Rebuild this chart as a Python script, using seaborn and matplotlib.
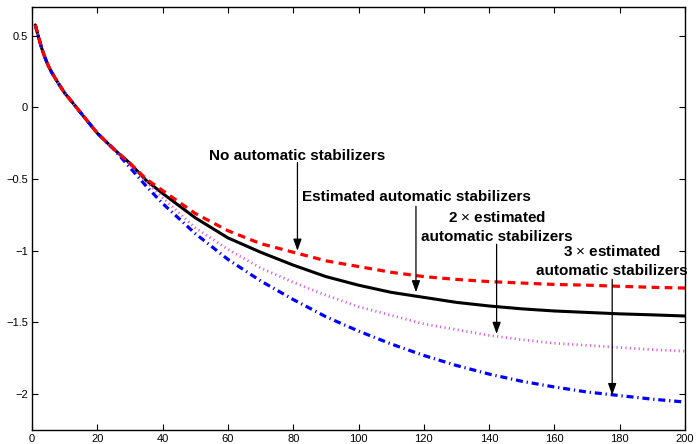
import numpy as np
import pandas as pd
import matplotlib
matplotlib.use("Agg")
import matplotlib.pyplot as plt
import seaborn as sns

# ---- data ----
x = [1, 2, 3, 4, 5, 6, 8, 10, 12, 15, 20, 25, 30, 35, 40, 50, 60, 70, 80, 90,
     100, 110, 120, 130, 140, 150, 160, 170, 180, 190, 200]
common = [0.575, 0.49, 0.41, 0.345, 0.29, 0.245, 0.17, 0.10, 0.045, -0.04,
          -0.18, -0.29]
no_stab = common + [-0.39, -0.50, -0.58, -0.74, -0.86, -0.95, -1.01, -1.07, -1.11,
                    -1.15, -1.18, -1.20, -1.215, -1.225, -1.235, -1.24, -1.248,
                    -1.255, -1.26]
est_stab = common + [-0.39, -0.51, -0.60, -0.77, -0.91, -1.01, -1.10, -1.18, -1.24,
                     -1.29, -1.325, -1.36, -1.385, -1.405, -1.42, -1.43, -1.44,
                     -1.447, -1.455]
two_stab = common + [-0.40, -0.52, -0.63, -0.84, -0.99, -1.12, -1.22, -1.31, -1.39,
                     -1.45, -1.51, -1.55, -1.59, -1.62, -1.645, -1.66, -1.675,
                     -1.69, -1.70]
three_stab = common + [-0.42, -0.55, -0.67, -0.88, -1.06, -1.21, -1.34, -1.46, -1.56,
                       -1.65, -1.73, -1.80, -1.86, -1.91, -1.95, -1.985, -2.01,
                       -2.035, -2.055]

x_ticks = [0, 20, 40, 60, 80, 100, 120, 140, 160, 180, 200]
y_ticks = [-2, -1.5, -1, -0.5, 0, 0.5]
y_tick_labels = ["\u22122", "\u22121.5", "\u22121", "\u22120.5", "0", "0.5"]

labels = ["No automatic stabilizers",
          "Estimated automatic stabilizers",
          "2 $\\times$ estimated\nautomatic stabilizers",
          "3 $\\times$ estimated\nautomatic stabilizers"]
# (text x, text y, arrow tip x, arrow tip y, arrow start y)
ann = [(81.3, -0.337, 81.3, -1.00, -0.385),
       (117.6, -0.627, 117.6, -1.29, -0.69),
       (142.3, -0.832, 142.3, -1.58, -0.955),
       (177.7, -1.071, 177.7, -2.007, -1.20)]

sns.set_style("ticks")
plt.rcParams['font.family'] = ['Liberation Sans', 'DejaVu Sans']
plt.rcParams['mathtext.fontset'] = 'custom'
plt.rcParams['mathtext.rm'] = 'Liberation Sans'
plt.rcParams['mathtext.bf'] = 'Liberation Sans:bold'
plt.rcParams['text.color'] = 'black'

fig = plt.figure(figsize=(6.98, 4.44), dpi=100)
ax = fig.add_axes([32/698, 14/444, (685-32)/698, (430-7)/444])

df = pd.DataFrame({"x": x, "no": no_stab, "est": est_stab,
                   "two": two_stab, "three": three_stab})

sns.lineplot(data=df, x="x", y="est", ax=ax, color="black", lw=2.2,
             linestyle="-")
sns.lineplot(data=df, x="x", y="two", ax=ax, color="#dd55dd", lw=2.0,
             linestyle=(0, (0.4, 1.2)))
sns.lineplot(data=df, x="x", y="three", ax=ax, color="#0000ff", lw=2.3,
             linestyle=(0, (2.2, 1.2, 0.4, 1.2)))
sns.lineplot(data=df, x="x", y="no", ax=ax, color="#ff0000", lw=2.3,
             linestyle=(0, (2.4, 1.7)))

ax.set_xlim(0, 200)
ax.set_ylim(-2.25, 0.7)
ax.set_xticks(x_ticks)
ax.set_yticks(y_ticks)
ax.set_yticklabels(y_tick_labels)
ax.set_xlabel("")
ax.set_ylabel("")
ax.tick_params(direction="in", top=True, right=True, length=4, width=0.8,
               labelsize=8, colors="black", pad=3)
for s in ax.spines.values():
    s.set_linewidth(1.0)
    s.set_color("black")

for lab, (tx, ty, ax_x, ax_y, sy) in zip(labels, ann):
    ax.text(tx, ty, lab, ha="center", va="center", fontsize=11,
            fontweight="bold", linespacing=1.45, color="black")
    ax.annotate("", xy=(ax_x, ax_y), xytext=(ax_x, sy),
                arrowprops=dict(arrowstyle="-|>,head_length=0.7,head_width=0.25",
                                color="black", lw=0.9, shrinkA=0, shrinkB=0))

fig.savefig("out.png", dpi=100)
